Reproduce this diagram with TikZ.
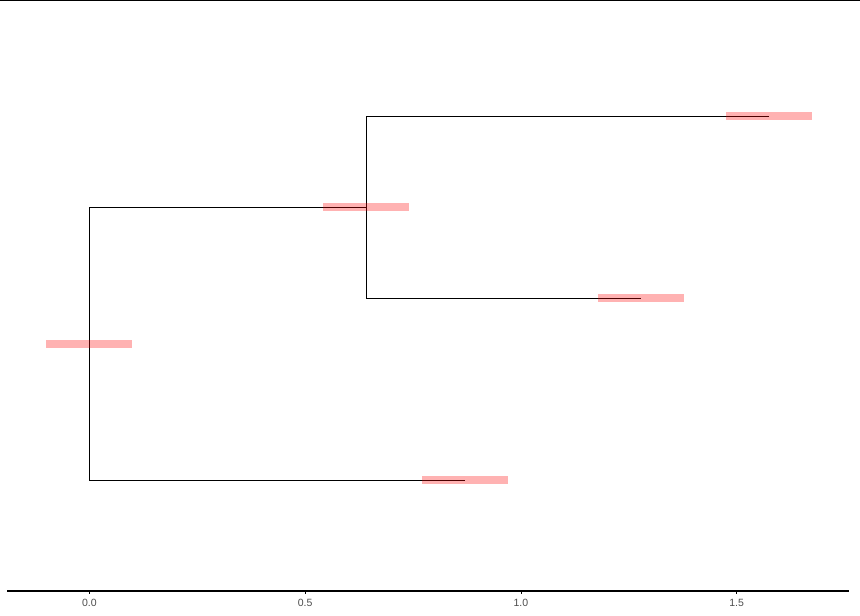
\documentclass[tikz,border=0pt]{standalone}
\usepackage{fontspec}
\setmainfont{Liberation Sans}
\begin{document}
\begin{tikzpicture}[x=1pt,y=-1pt,
  branch/.style={draw=black,line width=1.1pt},
  hpd/.style={rectangle,fill=red,fill opacity=0.3,draw=none,inner sep=0pt,minimum width=86.3pt,minimum height=7.7pt},
  axisline/.style={draw=black,line width=1.2pt},
  ticklab/.style={text=black!70,font=\fontsize{10.5}{12}\selectfont,inner sep=0pt,anchor=center}]
\useasboundingbox (0,0) rectangle (860,616);
% top border
\draw[line width=1.2pt] (0,0.5) -- (860,0.5);
% tree nodes
\coordinate (root) at (89.3,343.8);
\coordinate (n1) at (366.3,207.3);
\coordinate (t1) at (769,116.3);
\coordinate (t2) at (640.7,298.3);
\coordinate (t3) at (464.7,480.3);
% branches
\draw[branch] (n1) -| (root) |- (t3);
\draw[branch] (t1) -| (n1) |- (t2);
% interval bars
\node[hpd] (broot) at (root) {};
\node[hpd] (bn1) at (n1) {};
\node[hpd] (bt1) at (t1) {};
\node[hpd] (bt2) at (t2) {};
\node[hpd] (bt3) at (t3) {};
% axis
\coordinate (axl) at (7.3,591);
\coordinate (axr) at (849,591);
\draw[axisline] (axl) -- (axr);
\foreach \v/\x in {0.0/89.3,0.5/305.1,1.0/520.9,1.5/736.7}{
  \draw[line width=0.8pt] (\x,591) -- (\x,593.5);
  \node[ticklab] (lab\x) at (\x,603) {\v};
}
\end{tikzpicture}
\end{document}
